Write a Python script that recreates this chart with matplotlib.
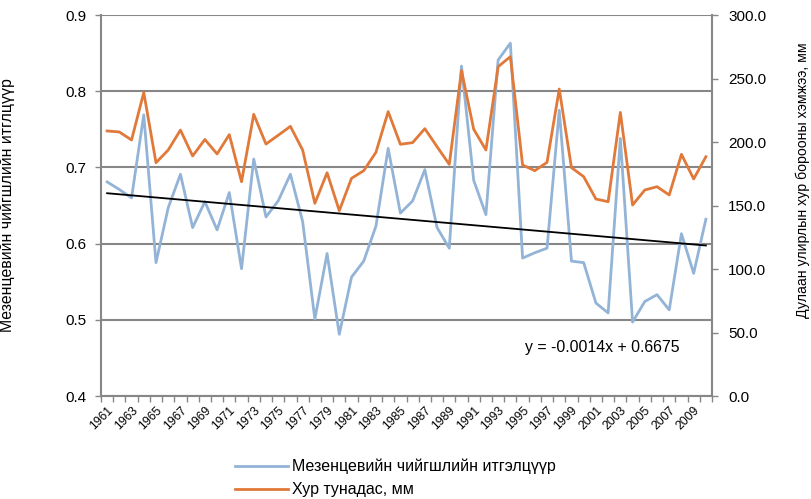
import numpy as np
import matplotlib
matplotlib.use('Agg')
import matplotlib.pyplot as plt
from matplotlib.ticker import FixedLocator, FormatStrFormatter

plt.rcParams['font.family'] = ['Liberation Sans', 'DejaVu Sans']

years = list(range(1961, 2011))

# Mezentsev humidity coefficient (left axis)
mezentsev = [0.681, 0.671, 0.660, 0.769, 0.575, 0.647, 0.691, 0.621, 0.655, 0.618,
             0.667, 0.567, 0.711, 0.635, 0.656, 0.691, 0.629, 0.501, 0.587, 0.481,
             0.556, 0.577, 0.623, 0.725, 0.640, 0.656, 0.697, 0.621, 0.594, 0.833,
             0.683, 0.638, 0.841, 0.863, 0.581, 0.588, 0.594, 0.775, 0.577, 0.575,
             0.522, 0.509, 0.738, 0.497, 0.524, 0.533, 0.513, 0.613, 0.561, 0.632]

# precipitation, mm (right axis)
precip = [208.7, 207.9, 201.6, 239.0, 183.7, 193.7, 209.4, 189.0, 202.0, 190.6,
          205.8, 168.7, 221.8, 198.4, 205.3, 212.3, 193.7, 151.7, 175.8, 145.9,
          171.4, 177.4, 191.9, 223.9, 198.2, 199.5, 210.5, 196.3, 182.4, 256.2,
          210.0, 193.7, 259.3, 267.2, 181.9, 177.4, 184.0, 241.7, 179.8, 172.7,
          155.1, 153.0, 223.3, 150.4, 162.2, 164.8, 158.3, 190.3, 170.9, 188.4]

trend_slope = -0.0014
trend_intercept = 0.6675

blue = '#93b4d6'
orange = '#e0793a'
grey = '#878787'

fig = plt.figure(figsize=(8.12, 4.99), dpi=100)
ax1 = fig.add_axes([101/812, 1 - 396/499, 611/812, 381/499])
ax2 = ax1.twinx()

x = np.arange(len(years))
ax1.plot(x, mezentsev, color=blue, lw=2.0, zorder=3, label='Мезенцевийн чийгшлийн итгэлцүүр')
trend = trend_slope * (x + 1) + trend_intercept
ax1.plot(x, trend, color='black', lw=1.3, zorder=4)
ax2.plot(x, precip, color=orange, lw=2.0, label='Хур тунадас, мм')

ax1.set_xlim(-0.5, len(years) - 0.5)
ax1.set_ylim(0.4, 0.9)
ax2.set_ylim(0, 300)

ax1.set_yticks(np.arange(0.4, 0.91, 0.1))
ax1.yaxis.set_major_formatter(FormatStrFormatter('%.1f'))
ax2.set_yticks(np.arange(0, 301, 50))
ax2.yaxis.set_major_formatter(FormatStrFormatter('%.1f'))

ax1.set_xticks(x[::2])
ax1.set_xticklabels([str(y) for y in years[::2]], rotation=45, ha='right',
                    rotation_mode='anchor', fontsize=8.7)
ax1.xaxis.set_minor_locator(FixedLocator(np.arange(-0.5, len(years), 1.0)))
ax1.tick_params(axis='x', which='major', length=0, pad=6)
ax1.tick_params(axis='x', which='minor', length=4, color=grey, width=1)

ax1.tick_params(axis='y', length=4, color=grey, width=1, labelsize=11, pad=6.5)
ax2.tick_params(axis='y', length=4, color=grey, width=1, labelsize=11, pad=7.5)

ax1.yaxis.grid(True, color=grey, lw=1.5)
ax1.set_axisbelow(True)

for ax in (ax1, ax2):
    ax.spines['top'].set_visible(False)
    for s in ('left', 'right', 'bottom'):
        ax.spines[s].set_color(grey)
        ax.spines[s].set_linewidth(1.5)
ax2.spines['left'].set_visible(False)
ax2.spines['bottom'].set_visible(False)
ax1.spines['right'].set_visible(False)

ax1.set_ylabel('Мезенцевийн чийгшлийн итглцүүр', fontsize=11.4)
ax1.yaxis.set_label_coords(-0.141, 0.5)
ax2.set_ylabel('Дулаан улирлын хур борооны хэмжээ, мм', fontsize=10.2, rotation=90)
ax2.yaxis.set_label_coords(1.136, 0.567)

ax1.text(0.82, 0.128, 'y = -0.0014x + 0.6675', transform=ax1.transAxes,
         ha='center', va='center', fontsize=11.4)

h1, l1 = ax1.get_legend_handles_labels()
h2, l2 = ax2.get_legend_handles_labels()
fig.legend(h1 + h2, l1 + l2, loc='upper left', bbox_to_anchor=(235/812, 1 - 459/499),
           frameon=False, fontsize=11.5, handlelength=3.3, handletextpad=0.3,
           labelspacing=0.5, borderpad=0, borderaxespad=0)

fig.savefig('out.png', dpi=100)
